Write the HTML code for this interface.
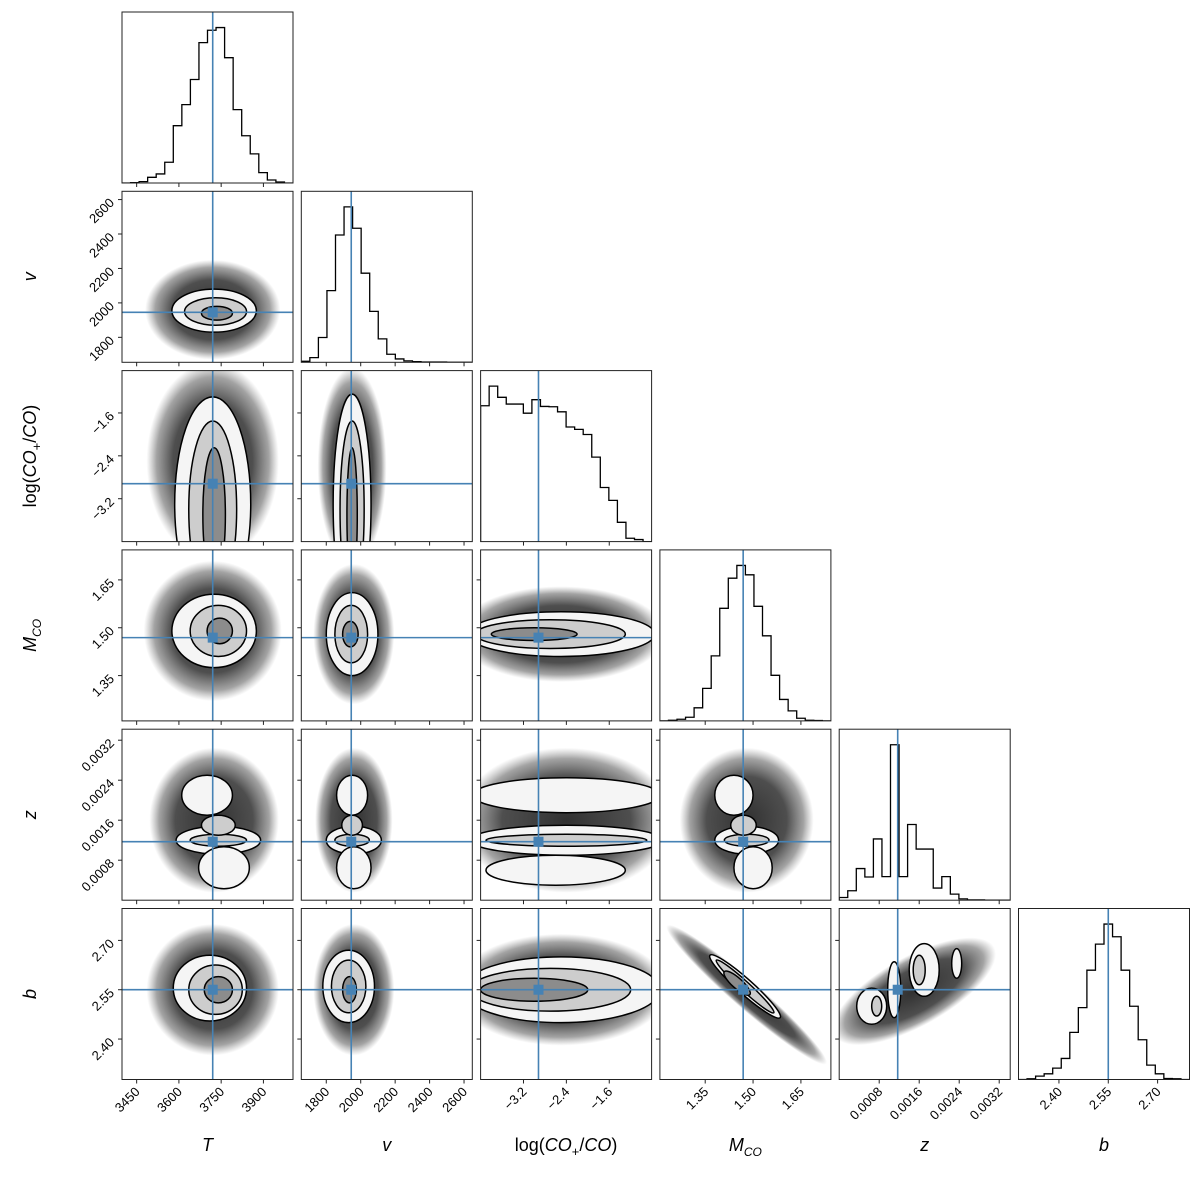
<!DOCTYPE html>
<html><head><meta charset="utf-8">
<style>
html,body{margin:0;padding:0;background:#fff;}
svg{display:block;font-family:"Liberation Sans","DejaVu Sans",sans-serif;}
</style></head>
<body>
<svg id="chart" width="1200" height="1193" viewBox="0 0 1200 1193" xmlns="http://www.w3.org/2000/svg">
<defs>
<radialGradient id="cloudGrad" cx="50%" cy="50%" r="50%">
<stop offset="0" stop-color="#1a1a1a" stop-opacity="0.9"/>
<stop offset="0.6" stop-color="#222" stop-opacity="0.8"/>
<stop offset="0.85" stop-color="#333" stop-opacity="0.45"/>
<stop offset="1" stop-color="#555" stop-opacity="0"/>
</radialGradient>
</defs>
</svg>
<script>
// ---- parameter data ----
const paramNames = ['T','v','logCO','M','z','b'];
const paramMin = [3398, 1655, -4.0, 1.208, 0.0, 2.277];
const paramMax = [4005, 2648, -0.81, 1.744, 0.00342, 2.797];
const truths = [3720, 1945, -2.92, 1.469, 0.00117, 2.55];
const tickT = [3450, 3600, 3750, 3900];
const tickV = [1800, 2000, 2200, 2400, 2600];
const tickLog = [-3.2, -2.4, -1.6];
const tickM = [1.35, 1.50, 1.65];
const tickZ = [0.0008, 0.0016, 0.0024, 0.0032];
const tickB = [2.40, 2.55, 2.70];
const tickLabelsT = ['3450','3600','3750','3900'];
const tickLabelsV = ['1800','2000','2200','2400','2600'];
const tickLabelsLog = ['\u22123.2','\u22122.4','\u22121.6'];
const tickLabelsM = ['1.35','1.50','1.65'];
const tickLabelsZ = ['0.0008','0.0016','0.0024','0.0032'];
const tickLabelsB = ['2.40','2.55','2.70'];
// ---- histogram counts (20 bins across each range) ----
const histT = [0,1,4,17,27,62,171,234,309,419,456,464,374,219,141,87,31,9,3,0];
const histV = [3,14,74,214,380,464,400,266,152,70,24,10,4,2,1,1,1,0,0,0];
const histLog = [402,460,427,407,407,380,420,400,399,384,339,332,317,250,160,122,57,10,6,0];
const histM = [0,2,5,11,39,97,194,336,426,464,436,342,254,136,64,30,8,2,1,0];
const histZ = [8,28,94,69,182,70,462,70,225,152,152,36,70,18,4,1,1,0,0,0];
const histB = [0,2,10,17,34,63,141,215,327,405,465,427,327,219,119,43,17,3,2,0];
// ---- 2D clouds: [cx,cy,rx,ry] or rotated [cx,cy,ux,uy,ratio] ----
const cloudTv = [3720,1960,240,290];
const cloudTlog = [3720,-2.5,235,1.85];
const cloudTM = [3720,1.49,245,0.22];
const cloudTz = [3725,0.0016,230,0.00145];
const cloudTb = [3720,2.55,235,0.2];
const cloudVlog = [1950,-2.6,200,1.85];
const cloudVM = [1960,1.48,235,0.22];
const cloudVz = [1960,0.0016,225,0.00145];
const cloudVb = [1960,2.55,235,0.2];
const cloudLogM = [-2.5,1.48,1.95,0.15];
const cloudLogz = [-2.4,0.0016,2.0,0.00145];
const cloudLogb = [-2.5,2.55,2.0,0.17];
const cloudMz = [1.48,0.0016,0.21,0.00145];
const cloudMb = [1.48,2.535,1.73,2.325,0.13];
const cloudzb = [0.0015,2.545,0.0031,2.68,0.38];
// ---- contours: [level,cx,cy,rx,ry] or [level,cx,cy,ux,uy,ratio] ----
const contTv = [[0,3725,1955,150,125],[1,3730,1950,110,80],[2,3735,1940,55,40]];
const contTlog = [[0,3720,-3.3,135,2.0],[1,3720,-3.4,85,1.65],[2,3725,-3.5,40,1.25]];
const contTM = [[0,3725,1.49,150,0.115],[1,3740,1.49,100,0.08],[2,3745,1.49,45,0.04]];
const contTz = [[0,3700,0.0021,90,0.0004],[0,3740,0.0012,150,0.00028],[0,3760,0.00065,90,0.00042],[1,3740,0.0012,100,0.00012],[1,3740,0.0015,60,0.0002]];
const contTb = [[0,3710,2.555,130,0.1],[1,3730,2.55,95,0.075],[2,3740,2.55,50,0.04]];
const contVlog = [[0,1950,-3.3,110,2.05],[1,1950,-3.4,70,1.65],[2,1950,-3.5,30,1.25]];
const contVM = [[0,1950,1.48,150,0.13],[1,1945,1.48,95,0.09],[2,1940,1.48,45,0.04]];
const contVz = [[0,1950,0.0021,90,0.0004],[0,1960,0.0012,160,0.00028],[0,1960,0.00065,100,0.00042],[1,1950,0.0012,100,0.00012],[1,1950,0.0015,60,0.0002]];
const contVb = [[0,1930,2.56,150,0.11],[1,1930,2.56,100,0.08],[2,1935,2.55,40,0.04]];
const contLogM = [[0,-2.5,1.48,1.75,0.07],[1,-2.7,1.48,1.4,0.045],[2,-3.0,1.48,0.8,0.02]];
const contLogz = [[0,-2.4,0.0021,1.75,0.00035],[0,-2.4,0.0012,1.8,0.0003],[0,-2.6,0.0006,1.3,0.0003],[1,-2.4,0.0012,1.5,0.00012]];
const contLogb = [[0,-2.5,2.55,1.85,0.1],[1,-2.7,2.55,1.5,0.065],[2,-3.0,2.55,1.0,0.035]];
const contMz = [[0,1.44,0.0021,0.06,0.0004],[0,1.48,0.0012,0.1,0.00028],[0,1.50,0.00065,0.06,0.00042],[1,1.48,0.0012,0.07,0.00012],[1,1.47,0.0015,0.04,0.0002]];
const contMb = [[0,1.475,2.56,1.585,2.465,0.16],[1,1.475,2.56,1.565,2.48,0.12],[2,1.45,2.57,1.41,2.605,0.3]];
const contzb = [[0,0.00065,2.50,0.0003,0.055],[0,0.0011,2.55,0.00013,0.085],[0,0.0017,2.61,0.0003,0.08],[0,0.00235,2.63,0.0001,0.045],[1,0.00075,2.50,0.0001,0.03],[1,0.0016,2.61,0.00012,0.045]];

const clouds = {'1_0':cloudTv,'2_0':cloudTlog,'3_0':cloudTM,'4_0':cloudTz,'5_0':cloudTb,
 '2_1':cloudVlog,'3_1':cloudVM,'4_1':cloudVz,'5_1':cloudVb,
 '3_2':cloudLogM,'4_2':cloudLogz,'5_2':cloudLogb,'4_3':cloudMz,'5_3':cloudMb,'5_4':cloudzb};
const contours = {'1_0':contTv,'2_0':contTlog,'3_0':contTM,'4_0':contTz,'5_0':contTb,
 '2_1':contVlog,'3_1':contVM,'4_1':contVz,'5_1':contVb,
 '3_2':contLogM,'4_2':contLogz,'5_2':contLogb,'4_3':contMz,'5_3':contMb,'5_4':contzb};
const hists = [histT,histV,histLog,histM,histZ,histB];
const ticks = [tickT,tickV,tickLog,tickM,tickZ,tickB];
const tickLabels = [tickLabelsT,tickLabelsV,tickLabelsLog,tickLabelsM,tickLabelsZ,tickLabelsB];

const NS='http://www.w3.org/2000/svg';
const svg=document.getElementById('chart');
const defs=svg.querySelector('defs');
const S=171, PITCH=179.3, X0=122, Y0=12;
const levelFill=['#f5f5f5','#cdcdcd','#8c8c8c'];
const BLUE='#4682b4';
function mk(tag,attrs,parent){const e=document.createElementNS(NS,tag);for(const k in attrs)e.setAttribute(k,attrs[k]);(parent||svg).appendChild(e);return e;}
function sx(p,col,v){return X0+col*PITCH+(v-paramMin[p])/(paramMax[p]-paramMin[p])*S;}
function sy(p,row,v){return Y0+row*PITCH+S-(v-paramMin[p])/(paramMax[p]-paramMin[p])*S;}
function ellipseFrom(e,px,py,col,row,parent){
  const cx=sx(px,col,e[0]),cy=sy(py,row,e[1]);
  if(e.length===4){
    const rx=e[2]/(paramMax[px]-paramMin[px])*S, ry=e[3]/(paramMax[py]-paramMin[py])*S;
    return mk('ellipse',{cx:cx,cy:cy,rx:rx,ry:ry},parent);
  }
  const ux=sx(px,col,e[2]),uy=sy(py,row,e[3]);
  const a=Math.hypot(ux-cx,uy-cy), ang=Math.atan2(uy-cy,ux-cx)*180/Math.PI;
  return mk('ellipse',{cx:cx,cy:cy,rx:a,ry:a*e[4],transform:'rotate('+ang+' '+cx+' '+cy+')'},parent);
}

for(let row=0;row<6;row++){
  for(let col=0;col<=row;col++){
    const x0=X0+col*PITCH, y0=Y0+row*PITCH;
    const g=mk('g',{});
    
    
    const cid='clip'+row+'_'+col;
    const cp=mk('clipPath',{id:cid},defs);
    mk('rect',{x:x0,y:y0,width:S,height:S},cp);
    const inner=mk('g',{'clip-path':'url(#'+cid+')'},g);
    if(row===col){
      const h=hists[col], mx=Math.max(...h), bw=S/h.length;
      let d='M'+x0+' '+(y0+S);
      h.forEach((c,i)=>{const y=y0+S-c/mx*S/1.1;d+=' L'+(x0+i*bw)+' '+y+' L'+(x0+(i+1)*bw)+' '+y;});
      d+=' L'+(x0+S)+' '+(y0+S);
      const p=mk('path',{d:d,fill:'none',stroke:'#000','stroke-width':1.3},inner);
      
      
      const tx=sx(col,col,truths[col]);
      const l=mk('line',{x1:tx,x2:tx,y1:y0,y2:y0+S,stroke:BLUE,'stroke-width':1.6},inner);
      
      
    } else {
      const key=row+'_'+col;
      const c=ellipseFrom(clouds[key],col,row,col,row,inner);
      c.setAttribute('fill','url(#cloudGrad)');
      
      
      contours[key].forEach(ct=>{
        const e=ellipseFrom(ct.slice(1),col,row,col,row,inner);
        e.setAttribute('fill',levelFill[ct[0]]);
        e.setAttribute('stroke','#000');
        e.setAttribute('stroke-width','1.5');
        
        
      });
      const tx=sx(col,col,truths[col]), ty=sy(row,row,truths[row]);
      const l1=mk('line',{x1:tx,x2:tx,y1:y0,y2:y0+S,stroke:BLUE,'stroke-width':1.6},inner);
      
      
      const l2=mk('line',{x1:x0,x2:x0+S,y1:ty,y2:ty,stroke:BLUE,'stroke-width':1.6},inner);
      
      
      const m=mk('rect',{x:tx-5,y:ty-5,width:10,height:10,fill:BLUE},inner);
      
      
    }
    mk('rect',{x:x0,y:y0,width:S,height:S,fill:'none',stroke:'#222','stroke-width':1},g);
    // x ticks
    ticks[col].forEach((t,i)=>{
      const x=sx(col,col,t);
      mk('line',{x1:x,x2:x,y1:y0+S,y2:y0+S+4,stroke:'#222','stroke-width':1},g);
      if(row===5){
        const ax=x+4, ay=y0+S+13;
        const tl=mk('text',{x:ax,y:ay,'font-size':13,'text-anchor':'end',fill:'#000',transform:'rotate(-45 '+ax+' '+ay+')'},g);
        tl.textContent=tickLabels[col][i];
        
        
      }
    });
    // y ticks
    if(row!==col){
      ticks[row].forEach((t,i)=>{
        const y=sy(row,row,t);
        mk('line',{x1:x0-4,x2:x0,y1:y,y2:y,stroke:'#222','stroke-width':1},g);
        if(col===0){
          const ax=x0-7, ay=y+4;
          const tl=mk('text',{x:ax,y:ay,'font-size':13,'text-anchor':'end',fill:'#000',transform:'rotate(-45 '+ax+' '+ay+')'},g);
          tl.textContent=tickLabels[row][i];
          
          
        }
      });
    }
  }
}
// axis labels
const labelHTML=[
 '<tspan font-style="italic">T</tspan>',
 '<tspan font-style="italic">v</tspan>',
 'log(<tspan font-style="italic">CO</tspan><tspan font-size="13" dy="5">+</tspan><tspan dy="-5">/</tspan><tspan font-style="italic">CO</tspan>)',
 '<tspan font-style="italic">M</tspan><tspan font-style="italic" font-size="12" dy="5">CO</tspan>',
 '<tspan font-style="italic">z</tspan>',
 '<tspan font-style="italic">b</tspan>'];
for(let i=0;i<6;i++){
  const cx=X0+i*PITCH+S/2;
  const t=mk('text',{x:cx,y:1151,'font-size':18,'text-anchor':'middle',fill:'#000'});
  t.innerHTML=labelHTML[i];
  
  
  if(i>0){
    const cy=Y0+i*PITCH+S/2;
    const ty=mk('text',{x:36,y:cy,'font-size':18,'text-anchor':'middle',fill:'#000',transform:'rotate(-90 36 '+cy+')'});
    ty.innerHTML=labelHTML[i];
    
    
  }
}
</script>
</body></html>
